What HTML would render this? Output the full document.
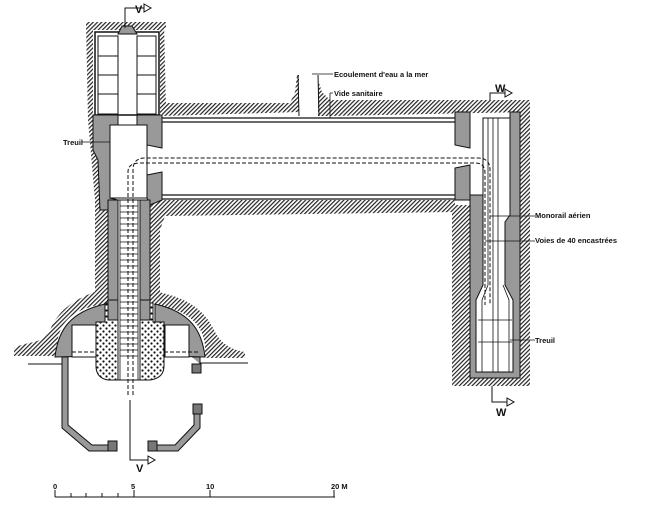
<!DOCTYPE html>
<html><head><meta charset="utf-8"><style>
html,body{margin:0;padding:0;background:#fff;}
svg{display:block;font-family:"Liberation Sans",sans-serif;}
</style></head><body>
<svg width="647" height="512" viewBox="0 0 647 512" xmlns="http://www.w3.org/2000/svg">
<defs>
<pattern id="h" width="3" height="3" patternUnits="userSpaceOnUse" patternTransform="rotate(45)">
<rect width="3" height="3" fill="#fff"/><rect width="1.2" height="3" fill="#222"/></pattern>
<pattern id="d" width="6" height="6" patternUnits="userSpaceOnUse">
<rect width="6" height="6" fill="#fff"/><circle cx="1.5" cy="1.5" r="1.1" fill="#111"/><circle cx="4.5" cy="4.5" r="1.1" fill="#111"/></pattern>
</defs>
<g stroke="#111" stroke-width="1">
<path d="M86,24 L164,22 L166,110 L160,115 L160,30 L93,30 L93,120 L110,120 L110,200 L100,205 L95,200 L88,120 Z" fill="url(#h)" stroke="none"/>
<rect x="86" y="22" width="80" height="6" fill="url(#h)" stroke="none"/>
<path d="M162,103 L290,103 L295,92 L297,75 L299,75 L299,112 L162,116 Z" fill="url(#h)" stroke="none"/>
<path d="M318,80 L322,92 L330,100 L530,100 L530,112 L330,116 L318,116 Z" fill="url(#h)" stroke="none"/>
<path d="M510,100 L530,100 L530,386 L452,386 L452,205 L470,205 L470,375 L520,375 L520,112 L510,112 Z" fill="url(#h)" stroke="none"/>
<path d="M150,200 L455,200 L455,212 L165,216 L160,230 L160,300 L150,300 Z" fill="url(#h)" stroke="none"/>
<path d="M95,200 L108,200 L108,300 L95,300 Z" fill="url(#h)" stroke="none"/>
<path d="M14,348 C30,340 42,345 50,330 C60,305 85,295 100,290 L108,290 L108,304 C80,306 62,318 58,338 L56,356 L14,356 Z" fill="url(#h)" stroke="none"/>
<path d="M150,290 C178,296 200,303 213,328 C220,344 232,350 245,352 L245,358 L205,358 L205,345 C202,320 182,308 150,304 Z" fill="url(#h)" stroke="none"/>
<rect x="95" y="32" width="64" height="83" fill="#fff" stroke-width="1.5"/>
<rect x="98" y="36" width="20" height="78" fill="#fff"/>
<rect x="137" y="36" width="19" height="78" fill="#fff"/>
<path d="M98,56 H118 M98,75 H118 M98,94 H118 M137,56 H156 M137,75 H156 M137,94 H156"/>
<path d="M118,34 L122,26 L132,26 L137,34 Z" fill="#999"/>
<path d="M93,115 L118,115 L118,125 L110,125 L110,198 L118,200 L118,210 L100,210 L98,160 L93,150 Z" fill="#999"/>
<path d="M137,115 L162,115 L162,148 L147,145 L147,125 L137,125 Z" fill="#999"/>
<path d="M147,175 L162,172 L162,200 L150,205 L147,198 Z" fill="#999"/>
<rect x="110" y="125" width="37" height="73" fill="#fff"/>
<path d="M162,118 H458 M162,122 H458" stroke-width="1.3"/>
<path d="M162,195 H458 M162,199 H458" stroke-width="1.3"/>
<path d="M298,75 L299,116 M318,75 L319,116" />
<!-- right shaft -->
<path d="M455,112 L470,112 L470,148 L455,145 Z" fill="#999"/>
<path d="M455,168 L470,165 L470,200 L455,200 Z" fill="#999"/>
<path d="M470,195 L483,195 L483,118 L510,118 L510,112 L520,112 L520,378 L470,378 Z" fill="#999"/>
<path d="M483,118 L510,118 L510,215 L505,222 L505,285 L513,300 L513,372 L476,372 L476,300 L483,285 Z" fill="#fff"/>
<path d="M488,118 V285 M493,118 V372 M498,118 V372 M478,320 H512 M478,342 H512" fill="none" stroke-width="0.8"/>
<path d="M488,285 L482,300 V372 M503,285 L509,300 V372" fill="none" stroke-width="0.8"/>
<!-- lower shaft -->
<path d="M108,200 L118,200 L118,300 L108,300 Z M140,200 L150,200 L150,300 L140,300 Z" fill="#999"/>
<rect x="118" y="200" width="22" height="180" fill="#fff"/>
<path d="M120,200 V380 M138,200 V380" stroke-width="0.8"/>
<g stroke-width="0.8">
<path d="M120,206H138M120,212H138M120,218H138M120,224H138M120,230H138M120,236H138M120,242H138M120,248H138M120,254H138M120,260H138M120,266H138M120,272H138M120,278H138M120,284H138M120,290H138M120,296H138M120,302H138M120,308H138M120,314H138M120,320H138M120,326H138M120,332H138M120,338H138M120,344H138M120,350H138M120,356H138"/>
</g>
<path d="M133,395 L133,170 Q133,158 145,158 L478,158 Q490,158 490,170 L490,305" fill="none" stroke-dasharray="4,2"/>
<path d="M128,395 L128,172 Q128,163 140,163 L475,163 Q485,163 485,173 L485,305" fill="none" stroke-dasharray="4,2"/>
<path d="M55,357 C58,330 70,312 105,304 L105,325 L98,325 L98,356 Z" fill="#999"/>
<rect x="72" y="325" width="24" height="32" fill="#fff"/>
<path d="M205,357 C202,330 190,312 155,304 L155,325 L162,325 L162,356 Z" fill="#999"/>
<rect x="165" y="325" width="24" height="32" fill="#fff"/>
<path d="M105,303 L118,303 L118,380 L108,380 Q96,378 96,366 L96,322 L105,322 Z" fill="url(#d)"/>
<path d="M153,303 L140,303 L140,380 L150,380 Q164,378 164,366 L164,322 L153,322 Z" fill="url(#d)"/>
<path d="M118,300 L108,300 L108,320 L118,320 Z M140,300 L150,300 L150,320 L140,320 Z" fill="#999"/>
<path d="M72,352 H96 M164,352 H200" stroke-dasharray="4,2"/>
<path d="M28,364 H62 M200,363 H248"/>
<path d="M62,357 L68,357 L68,425 L92,445 L110,445 L110,451 L89,451 L62,428 Z" fill="#999"/>
<rect x="108" y="441" width="9" height="10" fill="#777"/>
<path d="M156,445 L175,445 L194,425 L194,412 L200,412 L200,428 L178,451 L156,451 Z" fill="#999"/>
<rect x="148" y="441" width="9" height="10" fill="#777"/>
<rect x="193" y="404" width="9" height="10" fill="#777"/>
<rect x="192" y="364" width="9" height="9" fill="#777"/>
<path d="M192,357 H200 V364" fill="#999"/>
<path d="M130,400 V460 H148" fill="none"/>
<path d="M148,456 L155,460 L148,464 Z" fill="#fff"/>
<path d="M125,28 V8 H144" fill="none"/>
<path d="M144,4 L151,8 L144,12 Z" fill="#fff"/>
<path d="M490,100 V93 H505" fill="none"/>
<path d="M505,89 L512,93 L505,97 Z" fill="#fff"/>
<path d="M492,386 V402 H507" fill="none"/>
<path d="M507,398 L514,402 L507,406 Z" fill="#fff"/>
<path d="M82,142 H110 M312,74 H333 M330,93 L333,93 M330,93 V118 M490,216 H535 M485,241 H535 M510,340 H535" fill="none" stroke-width="0.8"/>
<path d="M55,497 H335 M55,490 V497 M71,493 V497 M86,493 V497 M102,493 V497 M118,493 V497 M134,490 V497 M210,490 V497 M334,490 V497" fill="none"/>
</g>
<g font-size="7.5" fill="#111" font-weight="bold">
<text x="135" y="13" font-size="11">V</text>
<text x="136" y="472" font-size="11">V</text>
<text x="495" y="92" font-size="11">W</text>
<text x="496" y="416" font-size="11">W</text>
<text x="63" y="145">Treuil</text>
<text x="334" y="77">Ecoulement d'eau a la mer</text>
<text x="334" y="96">Vide sanitaire</text>
<text x="535" y="218">Monorail aérien</text>
<text x="535" y="243">Voies de 40 encastrées</text>
<text x="535" y="343">Treuil</text>
<text x="53" y="489">0</text>
<text x="131" y="489">5</text>
<text x="206" y="489">10</text>
<text x="331" y="489">20 M</text>
</g>
</svg>
</body></html>
